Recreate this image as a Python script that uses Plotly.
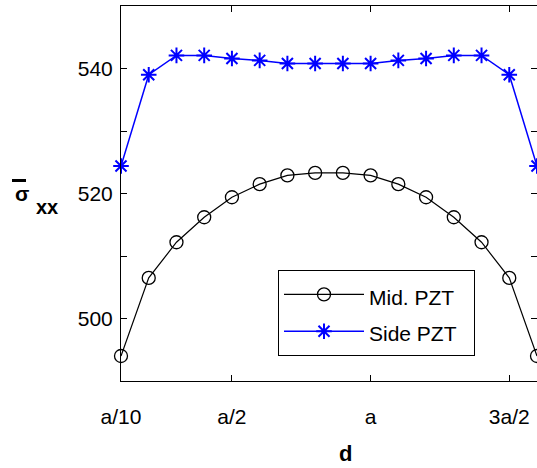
import plotly.graph_objects as go

d_vals = [0.1, 0.2, 0.3, 0.4, 0.5, 0.6, 0.7, 0.8, 0.9, 1.0, 1.1, 1.2, 1.3, 1.4, 1.5, 1.6]
mid_pzt = [494.0, 506.5, 512.2, 516.2, 519.4, 521.5, 522.9, 523.3, 523.3, 522.9, 521.5, 519.4, 516.2, 512.2, 506.5, 494.0]
side_pzt = [524.4, 539.0, 542.1, 542.1, 541.6, 541.3, 540.8, 540.8, 540.8, 540.8, 541.3, 541.6, 542.1, 542.1, 539.0, 524.4]

x_tickvals = [0.1, 0.5, 1.0, 1.5]
x_ticktext = ["a/10", "a/2", "a", "3a/2"]
y_tickvals = [490, 500, 510, 520, 530, 540, 550]
y_ticktext = ["", "500", "", "520", "", "540", ""]

FONT = "Liberation Sans, Arial, sans-serif"
NB = "\u00a0"

fig = go.Figure()
fig.add_trace(go.Scatter(
    x=d_vals, y=mid_pzt, mode="lines+markers",
    name="<span style='font-size:21px'>Mid. PZT" + NB * 2 + "</span>",
    line=dict(color="black", width=1.2),
    marker=dict(symbol="circle-open", size=13, color="black", line=dict(width=1.3)),
    cliponaxis=False,
))
fig.add_trace(go.Scatter(
    x=d_vals, y=side_pzt, mode="lines+markers",
    name="<span style='font-size:21px'>Side PZT" + NB * 2 + "</span>",
    line=dict(color="#0000ff", width=1.5),
    marker=dict(symbol="asterisk-open", size=13, color="#0000ff", line=dict(width=2, color="#0000ff")),
    cliponaxis=False,
))

fig.update_layout(
    width=537, height=468,
    margin=dict(l=121, r=0, t=6, b=87),
    paper_bgcolor="white", plot_bgcolor="white",
    font=dict(family=FONT, size=20, color="black"),
    showlegend=True,
    legend=dict(
        x=(278 - 121) / 416, y=(381 - 270) / 375, xanchor="left", yanchor="top",
        bgcolor="white", bordercolor="black", borderwidth=1,
        font=dict(size=26, family=FONT),
        itemwidth=80,
    ),
    xaxis=dict(
        range=[0.1, 1.6], tickvals=x_tickvals, ticktext=x_ticktext,
        ticks="inside", ticklen=6, tickcolor="black",
        showline=True, linecolor="black", linewidth=1, mirror="ticks",
        showgrid=False, zeroline=False,
        tickfont=dict(size=21, family=FONT),
        ticklabelstandoff=17,
    ),
    yaxis=dict(
        range=[490, 550], tickvals=y_tickvals, ticktext=y_ticktext,
        ticks="inside", ticklen=6, tickcolor="black",
        showline=True, linecolor="black", linewidth=1, mirror="ticks",
        showgrid=False, zeroline=False,
        tickfont=dict(size=21, family=FONT),
        ticklabelstandoff=3,
    ),
    annotations=[
        dict(text="<b>σ</b>", xref="paper", yref="paper", x=(21.5 - 121) / 416, y=(381 - 193) / 375,
             showarrow=False, font=dict(size=21, family=FONT), xanchor="center", yanchor="middle"),
        dict(text="<b>xx</b>", xref="paper", yref="paper", x=(47 - 121) / 416, y=(381 - 207) / 375,
             showarrow=False, font=dict(size=20, family=FONT), xanchor="center", yanchor="middle"),
        dict(text="<b>d</b>", xref="paper", yref="paper", x=(345 - 121) / 416, y=(381 - 453) / 375,
             showarrow=False, font=dict(size=22, family=FONT), xanchor="center", yanchor="middle"),
        # overbar of the sigma symbol
        dict(text=" ", xref="paper", yref="paper", x=(19 - 121) / 416, y=(381 - 180) / 375,
             showarrow=False, font=dict(size=1, family=FONT), width=14, height=3,
             bgcolor="black", borderpad=0, borderwidth=0, xanchor="center", yanchor="middle"),
    ],
)

fig.write_html("out.html", config={"displayModeBar": False},
               post_script="document.body.style.margin='0px';document.body.style.overflow='hidden';")
